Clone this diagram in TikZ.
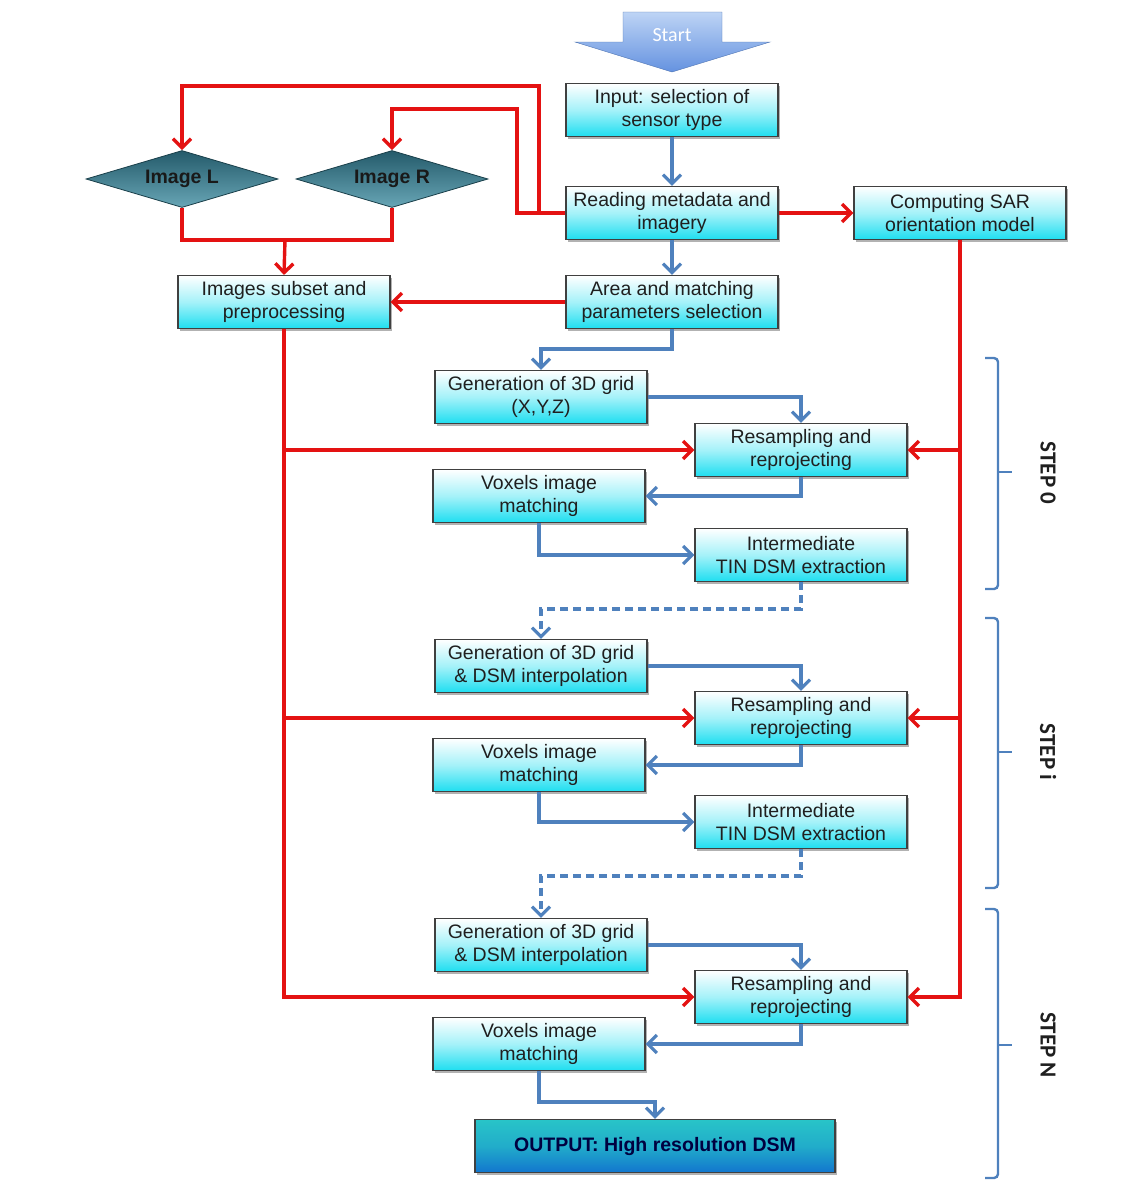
\documentclass[tikz,border=0pt]{standalone}
\usepackage{fontspec}
\setmainfont{Liberation Sans}
\newfontfamily\calib{Carlito}
\usetikzlibrary{arrows.meta,shapes.geometric,shadows}
\definecolor{boxcyan}{RGB}{30,222,240}
\definecolor{flowblue}{RGB}{79,129,189}
\definecolor{flowred}{RGB}{228,18,18}
\definecolor{diadark}{RGB}{36,90,106}
\definecolor{dialight}{RGB}{104,166,182}
\definecolor{outtop}{RGB}{40,196,200}
\definecolor{outbot}{RGB}{18,118,206}
\definecolor{startlight}{RGB}{190,212,245}
\definecolor{startdark}{RGB}{100,146,224}
\begin{document}
\begin{tikzpicture}
  [x=1pt,y=-1pt,
   every node/.style={font=\fontsize{19.5}{23}\selectfont,text=black!88},
   box/.style={draw=black!75,line width=1.1pt,minimum width=212pt,minimum height=53pt,
     inner sep=0pt,align=center,top color=white,bottom color=boxcyan,middle color=boxcyan!40,
     drop shadow={shadow xshift=2pt,shadow yshift=-2pt,opacity=.3,fill=black}},
   outbox/.style={box,minimum width=360pt,top color=outtop,bottom color=outbot,middle color=outtop!70!outbot,
     font=\fontsize{19.5}{23}\selectfont\bfseries,text=blue!25!black},
   imgdia/.style={diamond,aspect=3.4,draw=diadark!70!black,line width=.8pt,minimum width=192pt,minimum height=57pt,
     inner sep=0pt,top color=diadark,bottom color=dialight,font=\fontsize{19.5}{23}\selectfont\bfseries,
     text=black!90},
   redarrow/.style={draw=flowred,line width=3.4pt,-{Straight Barb[length=9pt,width=18pt]}},
   redline/.style={draw=flowred,line width=3.4pt},
   bluearrow/.style={draw=flowblue,line width=3.2pt,-{Straight Barb[length=9pt,width=18pt]}},
   stepbrace/.style={draw=flowblue,line width=2.4pt,rounded corners=4pt},
   steplabel/.style={rotate=-90,font=\fontsize{23}{24}\calib\bfseries}]

  \useasboundingbox (0,0) rectangle (1140,1181);

  % start arrow
  \shade[top color=startlight,bottom color=startdark,draw=startdark!80!black,line width=.4pt]
    (623,12) -- (722,12) -- (722,42) -- (770,42) -- (672,72) -- (575,42) -- (623,42) -- cycle;
  \node[text=white,font=\fontsize{20}{22}\calib] (start) at (672,35) {Start};

  \node[box] (input)  at (672,110)  {Input: selection of\\sensor type};
  \node[box] (read)   at (672,213)  {Reading metadata and\\imagery};
  \node[box] (sar)    at (960,213)  {Computing SAR\\orientation model};
  \node[box] (area)   at (672,302)  {Area and matching\\parameters selection};
  \node[box] (imgsub) at (284,302)  {Images subset and\\preprocessing};

  \node[imgdia] (imgL) at (182,179) {Image L};
  \node[imgdia] (imgR) at (392,179) {Image R};

  \node[box] (gen0) at (541,397)  {Generation of 3D grid\\(X,Y,Z)};
  \node[box] (res0) at (801,450)  {Resampling and\\reprojecting};
  \node[box] (vox0) at (539,496)  {Voxels image\\matching};
  \node[box] (int0) at (801,555)  {Intermediate\\TIN DSM extraction};

  \node[box] (geni) at (541,666)  {Generation of 3D grid\\\& DSM interpolation};
  \node[box] (resi) at (801,718)  {Resampling and\\reprojecting};
  \node[box] (voxi) at (539,765)  {Voxels image\\matching};
  \node[box] (inti) at (801,822)  {Intermediate\\TIN DSM extraction};

  \node[box] (genN) at (541,945)  {Generation of 3D grid\\\& DSM interpolation};
  \node[box] (resN) at (801,997)  {Resampling and\\reprojecting};
  \node[box] (voxN) at (539,1044) {Voxels image\\matching};

  \node[outbox] (out) at (655,1146) {OUTPUT: High resolution DSM};

  \coordinate (jLR) at (285,240);

  % red connectors
  \draw[redarrow] (read.west) -| (517,109) -| (imgR.north);
  \draw[redarrow] (539,213) -- (539,86) -| (imgL.north);
  \draw[redline] (imgL.south) |- (jLR) -| (imgR.south);
  \draw[redarrow] (jLR) -- (imgsub.north);
  \draw[redarrow] (area.west) -- (imgsub.east);
  \draw[redarrow] (read.east) -- (sar.west);
  \draw[redarrow] (imgsub.south) |- (resN.west);
  \draw[redarrow] (sar.south) |- (resN.east);
  \foreach \k in {0,i} {
    \draw[redarrow] (imgsub.south |- res\k.west) -- (res\k.west);
    \draw[redarrow] (sar.south |- res\k.east) -- (res\k.east);
  }

  % blue connectors
  \draw[bluearrow] (input) -- (read);
  \draw[bluearrow] (read) -- (area);
  \draw[bluearrow] (area.south) -- ++(0,20) -| (gen0.north);
  \foreach \k in {0,i,N} {
    \draw[bluearrow] (gen\k.east) -| (res\k.north);
    \draw[bluearrow] (res\k.south) |- (vox\k.east);
  }
  \foreach \k in {0,i} {
    \draw[bluearrow] (vox\k.south) |- (int\k.west);
  }
  \draw[bluearrow,dash pattern=on 8pt off 5pt] (int0.south) -- ++(0,27) -| (geni.north);
  \draw[bluearrow,dash pattern=on 8pt off 5pt] (inti.south) -- ++(0,27) -| (genN.north);
  \draw[bluearrow] (voxN.south) -- ++(0,31) -| (out.north);

  % step braces
  \draw[stepbrace] (985,358) -- (998,358) -- (998,589) -- (985,589);
  \draw[stepbrace] (985,618) -- (998,618) -- (998,888) -- (985,888);
  \draw[stepbrace] (985,909) -- (998,909) -- (998,1178) -- (985,1178);
  \draw[flowblue,line width=2.4pt] (998,472) -- (1012,472);
  \draw[flowblue,line width=2.4pt] (998,752) -- (1012,752);
  \draw[flowblue,line width=2.4pt] (998,1045) -- (1012,1045);
  \node[steplabel] (step0) at (1048,473)  {STEP 0};
  \node[steplabel] (stepi) at (1048,752)  {STEP i};
  \node[steplabel] (stepN) at (1048,1045) {STEP N};
\end{tikzpicture}
\end{document}
